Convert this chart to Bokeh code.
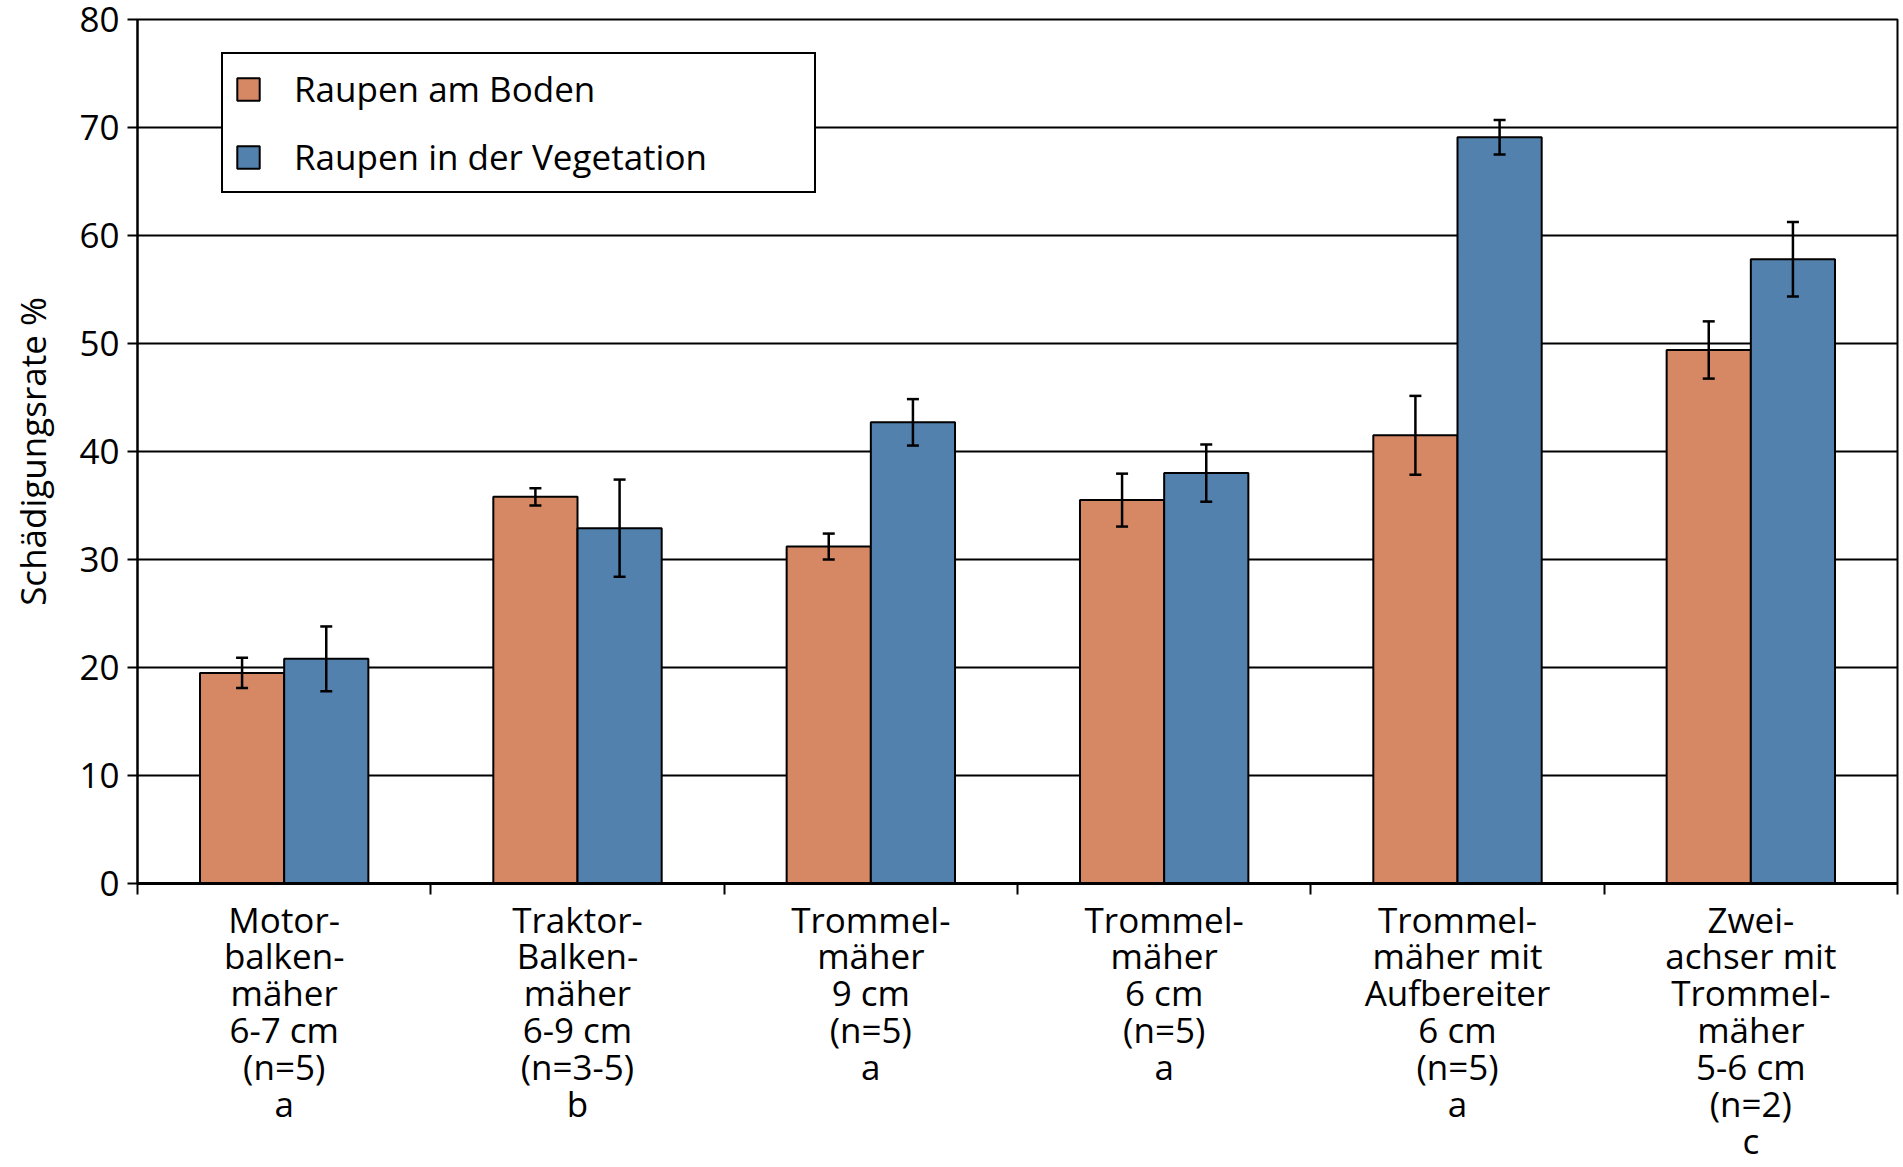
import numpy as np
from bokeh.plotting import figure
from bokeh.models import (ColumnDataSource, Range1d, FixedTicker, Whisker, TeeHead,
                          Legend, LegendItem)
from bokeh.embed import file_html
from bokeh.resources import INLINE

# ---- data ----
categories = [
    "Motor-\nbalken-\nmäher\n6-7 cm\n(n=5)\na",
    "Traktor-\nBalken-\nmäher\n6-9 cm\n(n=3-5)\nb",
    "Trommel-\nmäher\n9 cm\n(n=5)\na",
    "Trommel-\nmäher\n6 cm\n(n=5)\na",
    "Trommel-\nmäher mit\nAufbereiter\n6 cm\n(n=5)\na",
    "Zwei-\nachser mit\nTrommel-\nmäher\n5-6 cm\n(n=2)\nc",
]
series_names = ["Raupen am Boden", "Raupen in der Vegetation"]
boden = [19.5, 35.8, 31.2, 35.5, 41.5, 49.4]
boden_err = [1.4, 0.8, 1.2, 2.45, 3.65, 2.65]
vegetation = [20.8, 32.9, 42.7, 38.0, 69.1, 57.8]
vegetation_err = [3.0, 4.5, 2.15, 2.65, 1.6, 3.45]
y_ticks = [0, 10, 20, 30, 40, 50, 60, 70, 80]

# ---- styling ----
FONT = "Open Sans"
FS = "35px"
ORANGE = "#D68865"
BLUE = "#5281AD"
BAR_W = 0.287

centers = np.arange(len(categories)) + 0.5
src_b = ColumnDataSource(dict(x=centers - BAR_W / 2, top=boden,
                              upper=np.array(boden) + np.array(boden_err),
                              lower=np.array(boden) - np.array(boden_err)))
src_v = ColumnDataSource(dict(x=centers + BAR_W / 2, top=vegetation,
                              upper=np.array(vegetation) + np.array(vegetation_err),
                              lower=np.array(vegetation) - np.array(vegetation_err)))

p = figure(width=1901, height=1166, output_backend="svg", toolbar_location=None,
           x_range=Range1d(0, len(categories)), y_range=Range1d(0, 80))
p.min_border_left = 137
p.min_border_right = 4
p.min_border_top = 19
p.min_border_bottom = 283
p.outline_line_color = "black"
p.outline_line_width = 2
p.background_fill_color = "white"
p.border_fill_color = "white"

# grid
p.xgrid.visible = False
p.ygrid.ticker = FixedTicker(ticks=y_ticks[1:-1])
p.ygrid.grid_line_color = "black"
p.ygrid.grid_line_width = 2

# bars
rb = p.vbar(x="x", top="top", width=BAR_W, source=src_b, fill_color=ORANGE,
            line_color="black", line_width=2)
rv = p.vbar(x="x", top="top", width=BAR_W, source=src_v, fill_color=BLUE,
            line_color="black", line_width=2)

for s in (src_b, src_v):
    w = Whisker(base="x", upper="upper", lower="lower", source=s, level="overlay",
                line_color="black", line_width=2.5,
                upper_head=TeeHead(size=12, line_color="black", line_width=2.5),
                lower_head=TeeHead(size=12, line_color="black", line_width=2.5))
    p.add_layout(w)

# y axis
yax = p.yaxis[0]
yax.ticker = FixedTicker(ticks=y_ticks)
yax.axis_label = "Schädigungsrate %"
yax.axis_label_text_font = FONT
yax.axis_label_text_font_size = FS
yax.axis_label_text_font_style = "normal"
yax.axis_label_text_color = "black"
yax.axis_label_standoff = 20
yax.major_label_text_font = FONT
yax.major_label_text_font_size = FS
yax.major_label_text_color = "black"
yax.major_label_standoff = 8
yax.major_tick_out = 10
yax.major_tick_in = 0
yax.minor_tick_out = 0
yax.minor_tick_in = 0
yax.axis_line_width = 2
yax.axis_line_color = "black"
yax.major_tick_line_width = 2
yax.major_tick_line_color = "black"

# x axis: labels at centers, ticks at category boundaries
xax = p.xaxis[0]
xax.ticker = FixedTicker(ticks=list(centers), minor_ticks=list(range(len(categories) + 1)))
xax.major_label_overrides = {float(c): lab for c, lab in zip(centers, categories)}
xax.major_label_text_font = FONT
xax.major_label_text_font_size = FS
xax.major_label_text_color = "black"
xax.major_label_text_line_height = 0.785
xax.major_label_standoff = 1
xax.major_tick_out = 0
xax.major_tick_in = 0
xax.minor_tick_out = 11
xax.minor_tick_in = 0
xax.minor_tick_line_color = "black"
xax.minor_tick_line_width = 2
xax.axis_line_width = 3
xax.axis_line_color = "black"

# legend
legend = Legend(items=[LegendItem(label=series_names[0], renderers=[rb]),
                       LegendItem(label=series_names[1], renderers=[rv])],
                location=(84, 690))
legend.label_text_font = FONT
legend.label_text_font_size = FS
legend.label_text_color = "black"
legend.glyph_width = 28
legend.glyph_height = 28
legend.label_height = 28
legend.label_standoff = 32
legend.padding = 11
legend.spacing = 21
legend.label_width = 509
legend.margin = 0
legend.border_line_color = "black"
legend.border_line_width = 2
legend.border_line_alpha = 1
legend.background_fill_color = "white"
legend.background_fill_alpha = 1
p.add_layout(legend)

open("out.html", "w").write(file_html(p, INLINE))
